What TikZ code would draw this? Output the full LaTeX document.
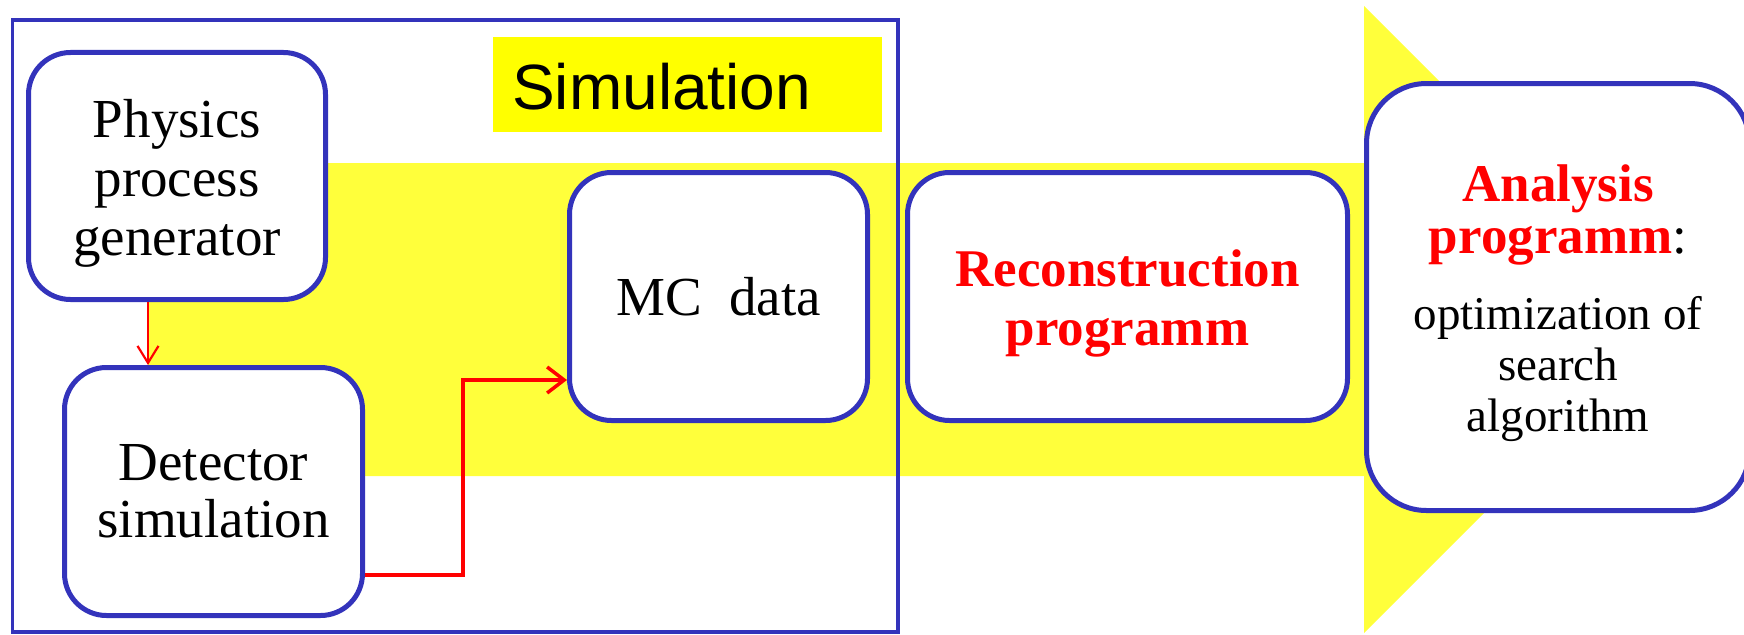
\documentclass[tikz,border=0pt]{standalone}
\usepackage{fontspec}
\setmainfont{Liberation Serif}
\newfontfamily\simfont{Liberation Sans}
\usetikzlibrary{arrows.meta}
\definecolor{bandyellow}{RGB}{255,255,59}
\definecolor{boxblue}{RGB}{51,51,187}
\definecolor{simyellow}{RGB}{255,255,0}
\definecolor{arrred}{RGB}{255,0,0}
\begin{document}
\begin{tikzpicture}[x=1pt,y=-1pt,
  stagebox/.style={draw=boxblue, line width=5pt, fill=white, rounded corners=42pt,
    inner sep=0pt, align=center, font=\fontsize{55}{58}\selectfont},
  redbold/.style={font=\fontsize{53}{59}\selectfont\bfseries, text=arrred},
  thinarrow/.style={draw=arrred, line width=2.2pt, -{Straight Barb[length=17pt,width=21pt,line width=2.2pt]}},
  thickarrow/.style={draw=arrred, line width=4.2pt, -{Straight Barb[length=17pt,width=26pt,line width=3.5pt]}}]
\useasboundingbox (0,0) rectangle (1744,634);
\clip (0,0) rectangle (1744,634);
% big yellow arrow
\fill[bandyellow] (148,163) -- (1364,163) -- (1364,6) -- (1677.5,319.5)
  -- (1364,633) -- (1364,476) -- (148,476) -- cycle;
% simulation frame
\node[draw=boxblue, line width=3.5pt, minimum width=885.5pt, minimum height=612pt, inner sep=0pt]
  (frame) at (455.25,326) {};
\node[fill=simyellow, minimum width=389pt, minimum height=95pt, inner sep=0pt] (simbox) at (687.5,84.5) {};
\node[anchor=base west, inner sep=0pt, font=\simfont\fontsize{64}{64}\selectfont] (simtxt) at (512,109) {Simulation};
% boxes
\node[stagebox, minimum width=297pt, minimum height=247pt, font=\fontsize{55}{59}\selectfont]
  (phys) at (177,176) {\rule{0pt}{53pt}Physics\\process\\generator};
\node[stagebox, minimum width=298pt, minimum height=248pt, font=\fontsize{55}{57}\selectfont]
  (det) at (213.5,491.5) {Detector\\simulation};
\node[stagebox, minimum width=298pt, minimum height=248pt]
  (mc) at (718.5,296.5) {MC~ data};
\node[stagebox, minimum width=440pt, minimum height=248pt, redbold]
  (reco) at (1127.5,296.5) {\rule{0pt}{50pt}Reconstruction\\programm};
\node[stagebox, rounded corners=60pt, minimum width=383pt, minimum height=427pt,
  font=\fontsize{47}{51}\selectfont]
  (ana) at (1558,297) {\rule{0pt}{50pt}{\fontsize{53}{53}\selectfont\bfseries\color{arrred}Analysis}\\[1pt]
  {\fontsize{53}{53}\selectfont\bfseries\color{arrred}programm}{\fontsize{53}{53}\selectfont:}\\[25pt]
  optimization of\\search\\algorithm};
% connectors
\coordinate (c1) at (148,0);
\coordinate (p1) at (463,575);
\coordinate (p2) at (463,380);
\draw[thinarrow] (phys.south -| c1) -- (det.north -| c1);
\draw[thickarrow] (p1 -| det.east) -- (p1) -- (p2) -- (p2 -| mc.west);
\end{tikzpicture}
\end{document}
